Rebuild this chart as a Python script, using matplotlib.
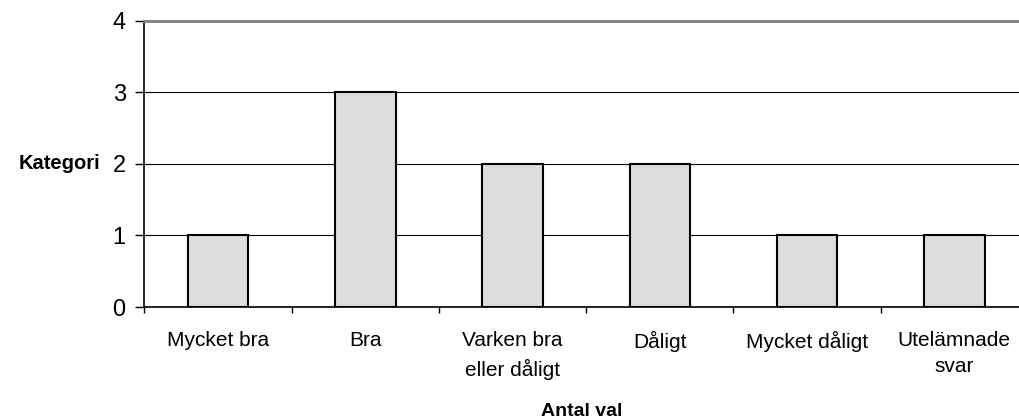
import matplotlib
matplotlib.use('Agg')
import matplotlib.pyplot as plt
import numpy as np

plt.rcParams['font.family'] = ['Liberation Sans', 'DejaVu Sans']

categories = ['Mycket bra', 'Bra', 'Varken bra\neller dåligt', 'Dåligt',
              'Mycket dåligt', 'Utelämnade\nsvar']
counts = [1, 3, 2, 2, 1, 1]
y_ticks = [0, 1, 2, 3, 4]

fig = plt.figure(figsize=(10.19, 4.19), dpi=100)
ax = fig.add_axes([0.1418, 0.2673, 0.867, 0.6826])

x = np.arange(len(categories))
ax.bar(x, counts, width=0.41, color='#dddddd', edgecolor='black',
       linewidth=1.5, zorder=2)

ax.set_xlim(-0.5, len(categories) - 0.5)
ax.set_ylim(0, 4)
ax.set_yticks(y_ticks)
ax.set_yticklabels([str(v) for v in y_ticks], fontsize=17)

# category labels sit between the boundary ticks
ax.set_xticks(x)
ax.set_xticklabels(categories, fontsize=15, linespacing=1.52)
ax.set_xticks(np.arange(-0.5, len(categories)), minor=True)
ax.tick_params(axis='x', which='major', length=0, pad=17)
ax.tick_params(axis='x', which='minor', length=4.5, width=1, color='black')
ax.tick_params(axis='y', length=6.5, width=1, pad=7, direction='out')

ax.yaxis.grid(True, color='black', linewidth=0.8)
ax.set_axisbelow(True)

ax.spines['right'].set_visible(False)
ax.spines['top'].set_color('#808080')
ax.spines['top'].set_linewidth(2)
ax.spines['left'].set_linewidth(1.2)
ax.spines['bottom'].set_linewidth(1.2)

ax.set_ylabel('Kategori', fontsize=14.5, fontweight='bold', rotation=0,
              ha='right', va='baseline')
ax.yaxis.set_label_coords(-0.0504, 0.4815)
fig.text(0.571, 0.006, 'Antal val', fontsize=14, fontweight='bold',
         ha='center', va='baseline')

fig.savefig('out.png', dpi=100)
